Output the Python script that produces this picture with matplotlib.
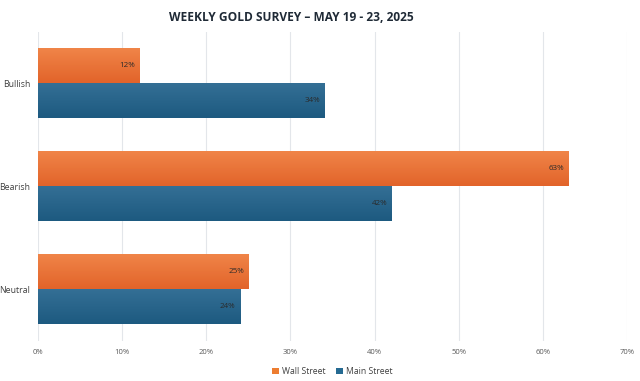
import numpy as np
import matplotlib.pyplot as plt
from matplotlib.colors import LinearSegmentedColormap

categories = ["Bullish", "Bearish", "Neutral"]
wall_street = [12, 63, 25]
main_street = [34, 42, 24]
x_ticks = [0, 10, 20, 30, 40, 50, 60, 70]

plt.rcParams['font.family'] = ['Open Sans', 'DejaVu Sans']

fig = plt.figure(figsize=(6.4, 3.81), dpi=100)
ax = fig.add_axes([0.059, 0.106, 0.921, 0.811])

y = np.arange(len(categories))
h = 0.335
orange_bars = ax.barh(y - h / 2, wall_street, height=h, color="#ED7D31", label="Wall Street", zorder=3)
blue_bars = ax.barh(y + h / 2, main_street, height=h, color="#256A92", label="Main Street", zorder=3)

# soft vertical gradient on each bar
grad = np.linspace(0, 1, 64).reshape(-1, 1)
cmaps = {
    "o": LinearSegmentedColormap.from_list("o", ["#F08548", "#E2632A"]),
    "b": LinearSegmentedColormap.from_list("b", ["#346F95", "#1D5A80"]),
}
for bars, key in [(orange_bars, "o"), (blue_bars, "b")]:
    for bar in bars:
        x0, y0 = bar.get_x(), bar.get_y()
        w, hh = bar.get_width(), bar.get_height()
        ax.imshow(grad, extent=[x0, x0 + w, y0, y0 + hh], aspect="auto",
                  cmap=cmaps[key], origin="lower", zorder=3.5)

for bars in [orange_bars, blue_bars]:
    for bar in bars:
        ax.text(bar.get_width() - 0.5, bar.get_y() + bar.get_height() / 2,
                f"{bar.get_width():.0f}%", ha="right", va="center",
                fontsize=5.8, color="#2a2a2a", zorder=5)

ax.set_xlim(0, 70)
ax.set_ylim(2.5, -0.5)
ax.set_xticks(x_ticks)
ax.set_xticklabels([f"{t}%" for t in x_ticks], fontsize=5.5, color="#595959")
ax.set_yticks(y)
ax.set_yticklabels(categories, fontsize=6.3, color="#404040")
ax.tick_params(length=0, pad=6)
ax.tick_params(axis="y", pad=5.5)
ax.grid(axis="x", color="#e3e6ea", linewidth=0.8, zorder=0)
for s in ax.spines.values():
    s.set_visible(False)

fig.text(0.456, 0.955, "WEEKLY GOLD SURVEY \u2013 MAY 19 - 23, 2025", ha="center", va="center",
         fontsize=8.6, fontweight="bold", color="#1F2A36")

ax.legend(loc="upper center", bbox_to_anchor=(0.5, -0.06), ncol=2, frameon=False,
          fontsize=6.2, handlelength=0.8, handleheight=0.8, columnspacing=1.2,
          handletextpad=0.4, labelcolor="#404040")

fig.savefig("out.png", dpi=100)
